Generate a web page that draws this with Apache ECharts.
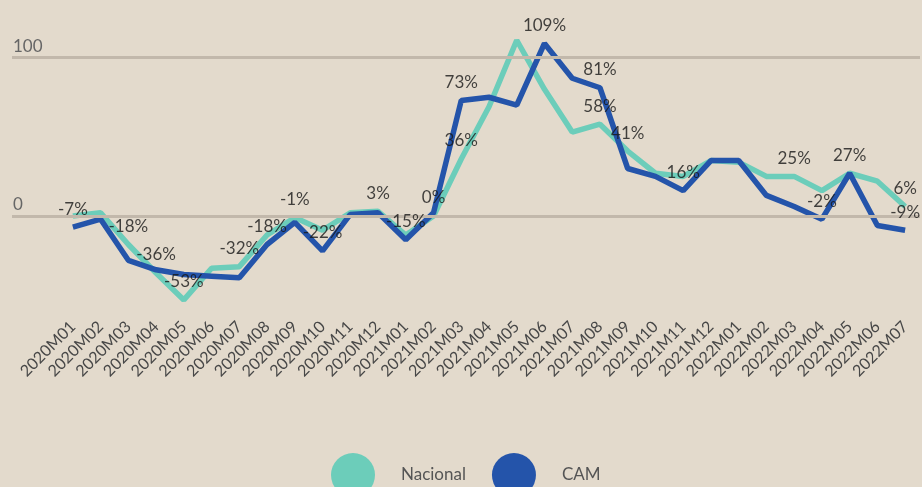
<!DOCTYPE html>
<html>
<head>
<meta charset="utf-8">
<script src="https://cdn.jsdelivr.net/npm/echarts@6/dist/echarts.min.js"></script>
<style>
  html, body { margin: 0; padding: 0; background: #e3dacc; }
  #chart { width: 922px; height: 487px; }
</style>
</head>
<body>
<div id="chart"></div>
<script>
const categories = ['2020M01','2020M02','2020M03','2020M04','2020M05','2020M06','2020M07','2020M08','2020M09','2020M10','2020M11','2020M12',
  '2021M01','2021M02','2021M03','2021M04','2021M05','2021M06','2021M07','2021M08','2021M09','2021M10','2021M11','2021M12',
  '2022M01','2022M02','2022M03','2022M04','2022M05','2022M06','2022M07'];
const nacional = [0, 2, -18, -36, -53, -33, -32, -12, -1, -9, 2, 3, -12, 0, 36, 69, 111, 80, 53, 58, 41, 27, 25, 35, 34, 25, 25, 16, 27, 22, 6];
const cam = [-7, -2, -28, -34, -37, -38, -39, -18, -4, -22, 1, 2, -15, 2, 73, 75, 70, 109, 87, 81, 30, 25, 16, 35, 35, 13, 6, -2, 27, -6, -9];
const nacionalLabelIdx = [2, 3, 4, 6, 8, 11, 13, 14, 19, 20, 26, 30];
const camLabelIdx = [0, 7, 9, 12, 14, 17, 19, 22, 27, 28, 30];
const yTicks = [0, 100];
const seriesNames = ['Nacional', 'CAM'];
const colors = ['#6ccdba', '#2454aa'];

const Y_MIN = -60, Y_MAX = 120;
const gridTop = 26, gridBottom = 176;

function labelData(values, idx) {
  return values.map((v, i) => idx.includes(i) ? { value: v, label: { show: true } } : { value: v, label: { show: false } });
}

const labelStyle = {
  show: false, position: 'top', distance: 9, formatter: '{c}%',
  color: '#161616', fontSize: 17, fontFamily: 'Lato'
};

function lineSeries(name, values, color, z) {
  return { name, type: 'line', xAxisIndex: 1, yAxisIndex: 1, data: values,
    color, lineStyle: { width: 5.5, color }, showSymbol: false, symbol: 'circle',
    itemStyle: { color }, emphasis: { disabled: true }, silent: true, z };
}
function labelSeries(values, idx) {
  return { type: 'scatter', xAxisIndex: 1, yAxisIndex: 1, data: labelData(values, idx),
    symbol: 'circle', symbolSize: 1, itemStyle: { color: 'rgba(0,0,0,0)' },
    label: labelStyle, emphasis: { disabled: true }, silent: true, z: 10 };
}

const chart = echarts.init(document.getElementById('chart'));
chart.setOption({
  backgroundColor: '#e3dacc',
  animation: false,
  textStyle: { fontFamily: 'Lato' },
  grid: [
    { left: 12, right: 2, top: gridTop, bottom: gridBottom },
    { left: 59, right: 3, top: gridTop, bottom: gridBottom }
  ],
  xAxis: [
    { gridIndex: 0, type: 'value', min: 0, max: 1, show: false },
    { gridIndex: 1, type: 'category', data: categories, boundaryGap: true,
      axisLine: { show: false }, axisTick: { show: false },
      axisLabel: { interval: 0, rotate: 45, color: '#474747', fontSize: 16, fontFamily: 'Lato', margin: 13 } }
  ],
  yAxis: [
    { gridIndex: 0, type: 'value', min: Y_MIN, max: Y_MAX, show: false },
    { gridIndex: 1, type: 'value', min: Y_MIN, max: Y_MAX, show: false }
  ],
  legend: {
    data: seriesNames, left: 326, top: 448, icon: 'circle',
    itemWidth: 44, itemHeight: 44, itemGap: 26,
    textStyle: { color: '#555', fontSize: 17, fontFamily: 'Lato', padding: [0, 0, 0, 21] }
  },
  series: [
    { type: 'line', xAxisIndex: 0, yAxisIndex: 0, data: [], silent: true,
      markLine: {
        silent: true, symbol: 'none', animation: false,
        lineStyle: { color: '#c2b8ab', width: 3, type: 'solid' },
        label: { show: true, position: 'insideStartTop', distance: [1, 3], formatter: p => String(p.value),
                 color: '#666', fontSize: 17, fontFamily: 'Lato' },
        emphasis: { disabled: true },
        data: yTicks.map(v => ({ yAxis: v }))
      }
    },
    lineSeries(seriesNames[0], nacional, colors[0], 2),
    lineSeries(seriesNames[1], cam, colors[1], 3),
    labelSeries(nacional, nacionalLabelIdx),
    labelSeries(cam, camLabelIdx)
  ]
});
</script>
</body>
</html>
